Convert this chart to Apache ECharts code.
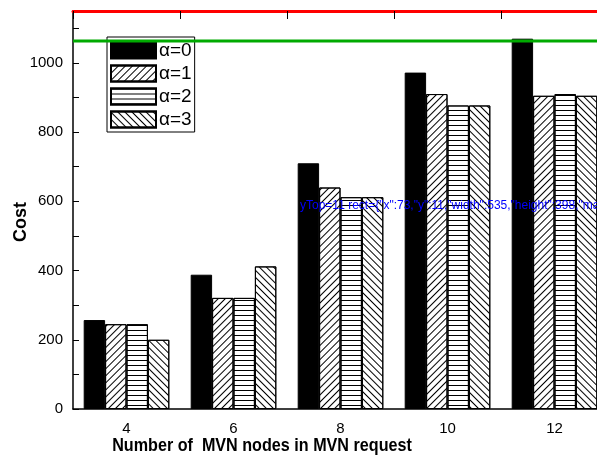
<!DOCTYPE html>
<html>
<head>
<meta charset="utf-8">
<script src="https://cdn.jsdelivr.net/npm/echarts@6/dist/echarts.min.js"></script>
<style>html,body{margin:0;padding:0;background:#fff;}#c{width:597px;height:458px;}</style>
</head>
<body>
<div id="c"></div>
<script>
var categories = ['4', '6', '8', '10', '12'];
var seriesNames = ['\u03b1=0', '\u03b1=1', '\u03b1=2', '\u03b1=3'];
var alpha0 = [257, 388, 710, 972, 1070];
var alpha1 = [245, 321, 640, 910, 905];
var alpha2 = [245, 321, 612, 877, 910];
var alpha3 = [200, 412, 612, 877, 905];
var yTickLabels = [0, 200, 400, 600, 800, 1000];
var yMax = 1150;

var FONT = 'Liberation Sans, Arial, sans-serif';
function stripe(rot, gap) {
  return { symbol: 'rect', symbolSize: 1, color: '#000', backgroundColor: null,
           dashArrayX: [1, 0], dashArrayY: [1, gap], rotation: rot };
}
var hatchStyles = [
  { color: '#000', borderColor: '#000', borderWidth: 1 },
  { color: '#fff', borderColor: '#000', borderWidth: 1, decal: stripe(-Math.PI / 4, 3.3) },
  { color: '#fff', borderColor: '#000', borderWidth: 1, decal: stripe(0, 4) },
  { color: '#fff', borderColor: '#000', borderWidth: 1, decal: stripe(Math.PI / 4, 3.3) }
];
var dataSets = [alpha0, alpha1, alpha2, alpha3];

var chart = echarts.init(document.getElementById('c'), null, { renderer: 'canvas' });
chart.setOption({
  animation: false,
  backgroundColor: '#fff',
  grid: { left: 73, top: 11, width: 535, height: 398, containLabel: false, outerBoundsMode: 'none' },
  legend: {
    orient: 'vertical', left: 107, top: 37,
    data: seriesNames,
    itemWidth: 45, itemHeight: 16, itemGap: 4,
    padding: [4, 3, 3, 3],
    borderColor: '#000', borderWidth: 1,
    textStyle: { fontFamily: FONT, fontSize: 19, lineHeight: 16, color: '#000', padding: [0, 0, 0, -2] },
    icon: 'rect',
    itemStyle: { decal: 'inherit' }
  },
  xAxis: [
    { type: 'category', data: categories, position: 'bottom',
      axisLine: { onZero: false, lineStyle: { color: '#000', width: 1.5 } },
      axisTick: { inside: true, length: 5, lineStyle: { color: '#000' } },
      axisLabel: { fontFamily: FONT, fontSize: 15, color: '#000', margin: 12 },
      splitLine: { show: false } },
    { type: 'category', data: categories, position: 'top',
      axisLine: { show: true, onZero: false, lineStyle: { color: '#f00', width: 3 } },
      axisTick: { show: true, inside: true, length: 8, lineStyle: { color: '#000' } },
      axisLabel: { show: false }, splitLine: { show: false } }
  ],
  yAxis: {
    type: 'value', min: 0, max: yMax, interval: 100,
    axisLine: { show: true, onZero: false, lineStyle: { color: '#000', width: 1.5 } },
    axisTick: { show: true, inside: true, length: 6, lineStyle: { color: '#000' } },
    axisLabel: { fontFamily: FONT, fontSize: 15, color: '#000', margin: 10, interval: 0,
      showMaxLabel: false,
      formatter: function (v) { return yTickLabels.indexOf(v) >= 0 ? String(v) : ''; } },
    splitLine: { show: false }
  },
  series: dataSets.map(function (d, i) {
    return { name: seriesNames[i], type: 'bar', data: d, xAxisIndex: 0,
      barGap: '0%', barCategoryGap: '20%', itemStyle: hatchStyles[i] };
  })
});

var yTop = chart.convertToPixel({ yAxisIndex: 0 }, yMax);
var rect = chart.getModel().getComponent('grid', 0).coordinateSystem.getRect();
chart.setOption({
  graphic: [
    { type: 'text', x: 262, y: 446, scaleX: 0.85,
      style: { text: 'Number of  MVN nodes in MVN request', fontFamily: FONT, fontWeight: 'bold',
               fontSize: 19, fill: '#000', align: 'center', verticalAlign: 'middle' } },
    { type: 'text', x: 21, y: 222, rotation: Math.PI / 2,
      style: { text: 'Cost', fontFamily: FONT, fontWeight: 'bold', fontSize: 18, fill: '#000',
               align: 'center', verticalAlign: 'middle' } },
    { type: 'text', x: 300, y: 200, z: 100,
      style: { text: 'yTop=' + yTop + ' rect=' + JSON.stringify(rect), fontSize: 12, fill: '#00f' } },
    { type: 'line', z: 100, silent: true,
      shape: { x1: rect.x, y1: yTop + 30, x2: rect.x + rect.width, y2: yTop + 30 },
      style: { stroke: '#0a0', lineWidth: 3 } }
  ]
});
</script>
</body>
</html>
